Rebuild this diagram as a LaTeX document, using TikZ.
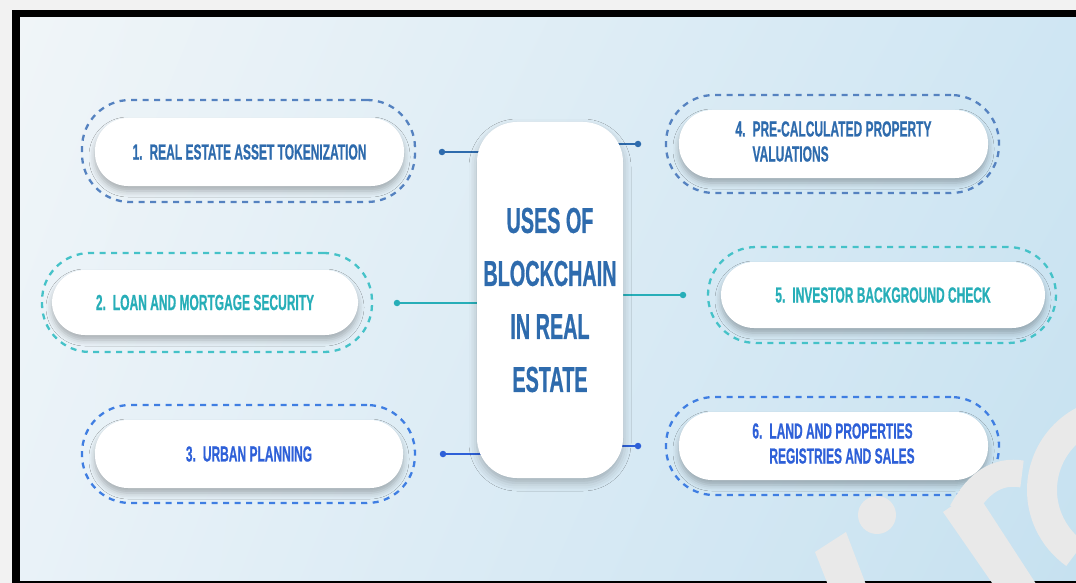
\documentclass[tikz,border=0pt]{standalone}
\usepackage{fontspec}
\setmainfont{Liberation Sans}
\newfontfamily\condfont[FakeStretch=0.55, BoldFeatures={FakeBold=0.6}]{Liberation Sans}
\usetikzlibrary{shadows.blur,shadings}

\definecolor{navy}{HTML}{2E6BAD}
\definecolor{teal2}{HTML}{27AEB8}
\definecolor{bright}{HTML}{2E60D8}
\definecolor{navyring}{HTML}{5582C0}
\definecolor{tealring}{HTML}{45C2C8}
\definecolor{brightring}{HTML}{3F7EE2}
\definecolor{bgUL}{HTML}{F0F5F8}
\definecolor{bgUR}{HTML}{CFE6F3}
\definecolor{bgLL}{HTML}{E9F2F8}
\definecolor{bgLR}{HTML}{C6E1F0}
\definecolor{margin}{HTML}{F2F2F2}
\definecolor{wmgrey}{HTML}{E9E9E9}

\newcommand\nsep{\hspace{7pt}}

\begin{document}
\begin{tikzpicture}[x=1pt,y=-1pt,
  pill/.style={fill=white, rounded corners=33pt, inner sep=0pt, align=center,
    font=\condfont\bfseries\fontsize{21.8}{25}\selectfont,
    blur shadow={shadow xshift=0pt, shadow yshift=-5pt, shadow blur radius=6pt, shadow opacity=28}},
  ring/.style={draw, line width=2.3pt, dash pattern=on 6pt off 5.5pt, rounded corners=48pt,
    inner sep=0pt},
  hubbox/.style={fill=white, rounded corners=40pt, inner sep=0pt,
    minimum width=146pt, minimum height=356pt,
    blur shadow={shadow xshift=0pt, shadow yshift=-5pt, shadow blur radius=8pt, shadow opacity=25}},
  conn/.style={line width=2pt},
  dot/.style={circle, inner sep=0pt, minimum size=6.5pt, fill},
]
\useasboundingbox (0,0) rectangle (1076,583);

% frame and background
\fill[margin] (0,0) rectangle (1076,583);
\fill[black] (12,10) rectangle (1076,583);
\shade[upper left=bgUL, upper right=bgUR, lower left=bgLL, lower right=bgLR]
  (20,18) rectangle (1076,580);

% dashed outer rings
\node[ring, navyring,   minimum width=333pt, minimum height=102pt] (r1) at (248.5,151) {};
\node[ring, tealring,   minimum width=330pt, minimum height=99pt]  (r2) at (207,302.5) {};
\node[ring, brightring, minimum width=333pt, minimum height=98pt]  (r3) at (248.5,454) {};
\node[ring, navyring,   minimum width=333pt, minimum height=98pt]  (r4) at (832.5,144) {};
\node[ring, tealring,   minimum width=348pt, minimum height=96pt]  (r5) at (882,295) {};
\node[ring, brightring, minimum width=333pt, minimum height=98pt]  (r6) at (832.5,446) {};

% white pills with their labels
\node[pill, text=navy, minimum width=309pt, minimum height=68pt] (p1) at (249.5,152)
  {1.\nsep REAL ESTATE ASSET TOKENIZATION};
\node[pill, text=teal2, minimum width=306pt, minimum height=65pt] (p2) at (205,302.5)
  {2.\nsep LOAN AND MORTGAGE SECURITY};
\node[pill, text=bright, minimum width=308pt, minimum height=68pt] (p3) at (249,454)
  {3.\nsep URBAN PLANNING};
\node[pill, text=navy, minimum width=309pt, minimum height=68pt] (p4) at (833.5,144)
  {\begin{tabular}{@{}l@{\nsep}l@{}}4. & PRE-CALCULATED PROPERTY\\ & VALUATIONS\end{tabular}};
\node[pill, text=teal2, minimum width=324pt, minimum height=66pt] (p5) at (883,295)
  {5.\nsep INVESTOR BACKGROUND CHECK};
\node[pill, text=bright, minimum width=309pt, minimum height=68pt] (p6) at (833.5,446)
  {\begin{tabular}{@{}l@{\nsep}l@{}}6. & LAND AND PROPERTIES\\ & REGISTRIES AND SALES\end{tabular}};

% connector end points
\coordinate (d1) at (442,152);
\coordinate (d2) at (397,303);
\coordinate (d3) at (443,454);
\coordinate (d4) at (638,144);
\coordinate (d5) at (683,295);
\coordinate (d6) at (638,446);
\coordinate (hc) at (550,300);

% connectors (drawn first, the hub covers their inner ends)
\draw[conn, navy]   (d1) -- (d1 -| hc);
\draw[conn, teal2]  (d2) -- (d2 -| hc);
\draw[conn, bright] (d3) -- (d3 -| hc);
\draw[conn, navy]   (d4) -- (d4 -| hc);
\draw[conn, teal2]  (d5) -- (d5 -| hc);
\draw[conn, bright] (d6) -- (d6 -| hc);
\node[dot, navy]   at (d1) {};
\node[dot, teal2]  at (d2) {};
\node[dot, bright] at (d3) {};
\node[dot, navy]   at (d4) {};
\node[dot, teal2]  at (d5) {};
\node[dot, bright] at (d6) {};

% central box
\node[hubbox] (hub) at (hc) {};
\node[text=navy, align=center, font=\condfont\bfseries\fontsize{36}{53}\selectfont]
  (hubtext) at (550,300) {USES OF\\BLOCKCHAIN\\IN REAL\\ESTATE};

% watermark lettering in the lower right corner
\begin{scope}
\clip (0,0) rectangle (1076,583);
\fill[wmgrey] (877,515) circle[radius=19];
\fill[wmgrey] (815,552) -- (846,532) -- (868,590) -- (830,590) -- cycle;
\fill[wmgrey] (943,512) -- (975,490) -- (1040,590) -- (997,590) -- cycle;
\draw[wmgrey, line width=27pt] (962,512) .. controls (978,482) and (998,470) .. (1022,474);
\draw[wmgrey, line width=30pt] (1120,490) ++(-115:78) arc[start angle=-115, end angle=-235, radius=78];
\end{scope}
\end{tikzpicture}
\end{document}
